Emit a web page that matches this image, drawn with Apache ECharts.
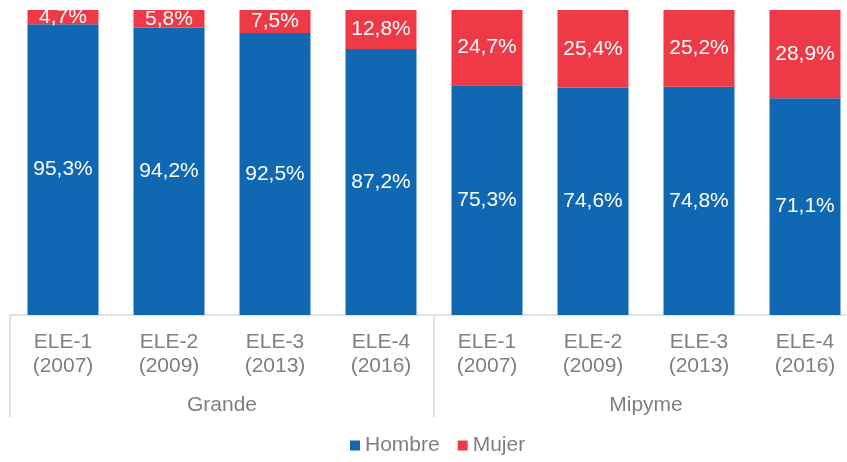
<!DOCTYPE html>
<html>
<head>
<meta charset="utf-8">
<script src="https://cdn.jsdelivr.net/npm/echarts@6/dist/echarts.min.js"></script>
<style>
  html, body { margin: 0; padding: 0; background: #fff; }
  #chart { width: 847px; height: 462px; }
</style>
</head>
<body>
<div id="chart"></div>
<script>
var categories = ["ELE-1\n(2007)", "ELE-2\n(2009)", "ELE-3\n(2013)", "ELE-4\n(2016)",
                  "ELE-1\n(2007)", "ELE-2\n(2009)", "ELE-3\n(2013)", "ELE-4\n(2016)"];
var groups = ["Grande", "Mipyme"];
var hombre = [95.3, 94.2, 92.5, 87.2, 75.3, 74.6, 74.8, 71.1];
var mujer = [4.7, 5.8, 7.5, 12.8, 24.7, 25.4, 25.2, 28.9];

var chart = echarts.init(document.getElementById("chart"));
var font = "Liberation Sans, Arial, sans-serif";

// etiqueta con coma decimal
function pct(p) {
  return p.value.toFixed(1).replace(".", ",") + "%";
}

var option = {
  animation: false,
  textStyle: { fontFamily: font },
  grid: { left: 10, top: 10, width: 848, bottom: 147, containLabel: false, outerBoundsMode: "none" },
  legend: {
    bottom: 1,
    left: 345,
    itemWidth: 10,
    itemHeight: 10,
    itemGap: 18,
    icon: "rect",
    textStyle: { color: "#7f7f7f", fontSize: 21, fontFamily: font },
    data: ["Hombre", "Mujer"]
  },
  xAxis: [
    {
      type: "category",
      data: categories,
      position: "bottom",
      axisLine: { lineStyle: { color: "#d9d9d9", width: 1.5 } },
      axisTick: { show: false },
      axisLabel: {
        interval: 0,
        color: "#7f7f7f",
        fontSize: 21,
        lineHeight: 24,
        margin: 15,
        fontFamily: font
      }
    },
    {
      type: "category",
      data: groups,
      position: "bottom",
      axisLine: { show: false },
      axisTick: { show: true, length: 102, lineStyle: { color: "#d9d9d9", width: 1.5 } },
      axisLabel: {
        color: "#7f7f7f",
        fontSize: 21,
        lineHeight: 24,
        margin: 78,
        fontFamily: font
      }
    }
  ],
  yAxis: {
    type: "value",
    min: 0,
    max: 100,
    show: false,
    splitLine: { show: false }
  },
  series: [
    {
      name: "Hombre",
      type: "bar",
      stack: "total",
      barWidth: "67%",
      data: hombre,
      itemStyle: { color: "#1068b3" },
      label: { show: true, position: "inside", color: "#fff", fontSize: 21, fontFamily: font, formatter: pct }
    },
    {
      name: "Mujer",
      type: "bar",
      stack: "total",
      barWidth: "67%",
      data: mujer,
      itemStyle: { color: "#ee3a46" },
      label: { show: true, position: "inside", color: "#fff", fontSize: 21, fontFamily: font, formatter: pct }
    }
  ]
};
chart.setOption(option);
</script>
</body>
</html>
